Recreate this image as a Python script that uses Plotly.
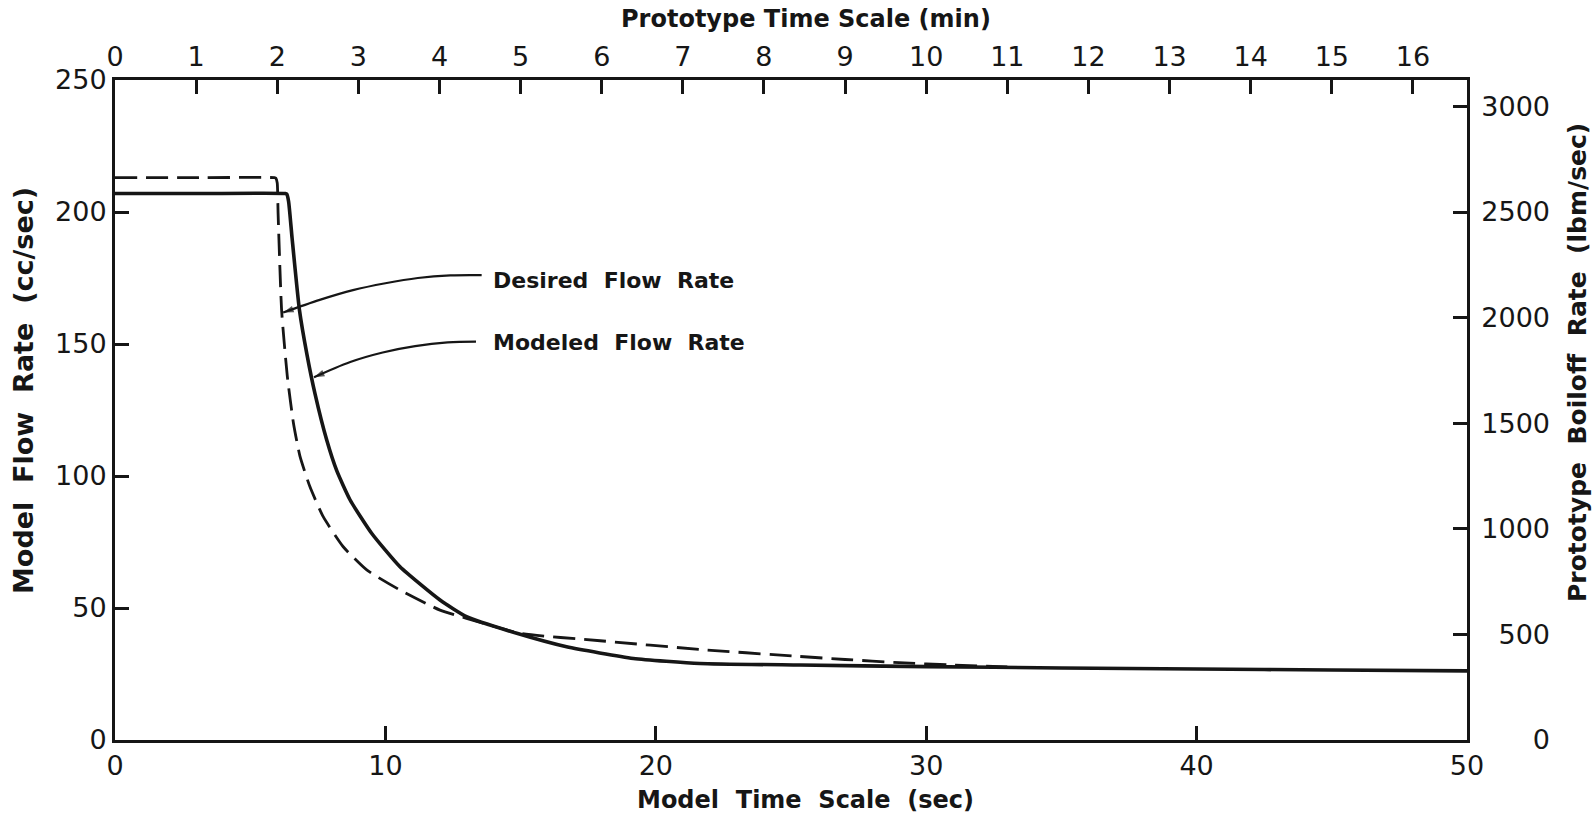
import plotly.graph_objects as go

# ---- data (model time in sec, model flow rate in cc/sec) ----
desired_t = [0, 3.0, 5.9, 5.95, 6.0, 6.03, 6.16, 6.37, 6.6, 6.84, 7.21, 7.70, 8.44, 9.31, 10.54,
             12.02, 13.0, 14.98, 17.94, 21.63, 25.09, 27.0, 29.0, 31.0, 33.0]
desired_v = [213, 213, 213, 212.8, 211, 200, 163, 138, 120, 107.5, 95.9, 84.6, 73.2, 64.4, 56.8,
             49.2, 46.1, 40.4, 37.6, 34.3, 31.8, 30.5, 29.3, 28.4, 27.7]

modeled_t = [0, 3.2, 6.3, 6.35, 6.42, 6.55, 6.82, 7.1, 7.4, 7.83, 8.2, 8.69, 9.49, 10.54, 12.02,
             13.0, 14.86, 16.7, 19.17, 21.63, 25.33, 30, 35, 40, 45, 50]
modeled_v = [207, 207, 207, 206.8, 204, 190, 163, 146, 131, 113.6, 102, 91, 78.3, 65.6, 53.0,
             46.7, 40.4, 35.3, 30.9, 29.0, 28.4, 27.8, 27.3, 26.9, 26.5, 26.2]

# leader (arrow) paths, in data coordinates
desired_arrow_t = [13.56, 12.4, 11.2, 10.0, 8.8, 7.6, 6.22]
desired_arrow_v = [176.1, 176.0, 175.0, 173.0, 170.4, 166.8, 161.9]
modeled_arrow_t = [13.35, 12.3, 11.1, 9.9, 8.7, 7.36]
modeled_arrow_v = [150.9, 150.6, 149.2, 146.8, 143.2, 137.4]

label_desired = "Desired Flow Rate"
label_modeled = "Modeled Flow Rate"
label_pos_t = 13.9
label_desired_v = 174
label_modeled_v = 150.5

x_ticks = [0, 10, 20, 30, 40, 50]
y_ticks = [0, 50, 100, 150, 200, 250]
top_ticks = list(range(0, 17))          # prototype minutes
right_ticks = [0, 500, 1000, 1500, 2000, 2500, 3000]   # lbm/sec

title_bottom = "Model Time Scale (sec)"
title_top = "Prototype Time Scale (min)"
title_left = "Model Flow Rate (cc/sec)"
title_right = "Prototype Boiloff Rate (lbm/sec)"

SEC_PER_MIN = 3.0        # model seconds per prototype minute
LBM_PER_CC = 12.5        # prototype lbm/sec per model cc/sec

FONT = "DejaVu Sans"
INK = "#161616"
NB = "\u00a0"


def spaced(text, gap):
    return (NB * gap).join(text.split(" "))


fig = go.Figure()

fig.add_trace(go.Scatter(x=desired_t, y=desired_v, mode="lines",
                         line=dict(color=INK, width=2.8, dash="22px,9px",
                                   shape="spline", smoothing=0.5),
                         showlegend=False, hoverinfo="skip"))
fig.add_trace(go.Scatter(x=modeled_t, y=modeled_v, mode="lines",
                         line=dict(color=INK, width=3.6, shape="spline", smoothing=0.5),
                         showlegend=False, hoverinfo="skip"))

for at, av in ((desired_arrow_t, desired_arrow_v), (modeled_arrow_t, modeled_arrow_v)):
    sizes = [0] * (len(at) - 1) + [11]
    fig.add_trace(go.Scatter(x=at, y=av, mode="lines+markers",
                             line=dict(color=INK, width=2.2, shape="spline"),
                             marker=dict(symbol="arrow", size=sizes, color=INK,
                                         angleref="previous", line=dict(width=0)),
                             showlegend=False, hoverinfo="skip"))

for txt, yv in ((label_desired, label_desired_v), (label_modeled, label_modeled_v)):
    fig.add_annotation(x=label_pos_t, y=yv, text=spaced(txt, 2), showarrow=False,
                       xanchor="left", yanchor="middle",
                       font=dict(family=FONT, size=22, color=INK, weight="bold"))

W, H = 1593, 820
ML, MR, MT, MB = 115, 10, 80, 80
PW, PH = W - ML - MR, H - MT - MB
plot_right_px = 1467
xdom_end = (plot_right_px - ML) / PW


def px_x(px):
    return (px - ML) / PW


def px_y(py):
    return (H - MB - py) / PH


# axis titles
fig.add_annotation(xref="paper", yref="paper", x=px_x(805), y=px_y(800), text=spaced(title_bottom, 2),
                   showarrow=False, xanchor="center", yanchor="middle",
                   font=dict(family=FONT, size=24, color=INK, weight="bold"))
fig.add_annotation(xref="paper", yref="paper", x=px_x(806), y=px_y(19), text=title_top,
                   showarrow=False, xanchor="center", yanchor="middle",
                   font=dict(family=FONT, size=24, color=INK, weight="bold"))
fig.add_annotation(xref="paper", yref="paper", x=px_x(23), y=px_y(391), text=spaced(title_left, 2),
                   showarrow=False, xanchor="center", yanchor="middle", textangle=-90,
                   font=dict(family=FONT, size=27, color=INK, weight="bold"))
fig.add_annotation(xref="paper", yref="paper", x=px_x(1577), y=px_y(363), text=spaced(title_right, 2),
                   showarrow=False, xanchor="center", yanchor="middle", textangle=-90,
                   font=dict(family=FONT, size=25, color=INK, weight="bold"))

tickfont = dict(family=FONT, size=27, color=INK)

fig.update_layout(
    width=W, height=H,
    margin=dict(l=ML, r=MR, t=MT, b=MB, autoexpand=False),
    paper_bgcolor="white", plot_bgcolor="white",
    xaxis=dict(domain=[0, xdom_end], range=[0, 50], tickvals=x_ticks,
               ticks="inside", ticklen=14, tickwidth=2.5, tickcolor=INK,
               showline=True, linewidth=3, linecolor=INK, showgrid=False, zeroline=False,
               tickfont=tickfont, automargin=False),
    xaxis2=dict(domain=[0, xdom_end], range=[0, 50 / SEC_PER_MIN], tickvals=top_ticks,
                overlaying="x", side="top", anchor="y",
                ticks="inside", ticklen=14, tickwidth=2.5, tickcolor=INK,
                showline=True, linewidth=3, linecolor=INK, showgrid=False, zeroline=False,
                tickfont=tickfont, automargin=False),
    yaxis=dict(range=[0, 250], tickvals=y_ticks, anchor="x",
               ticks="inside", ticklen=14, tickwidth=2.5, tickcolor=INK,
               showline=True, linewidth=3, linecolor=INK, showgrid=False, zeroline=False,
               tickfont=tickfont, automargin=False),
    yaxis2=dict(range=[0, 250 * LBM_PER_CC], tickvals=right_ticks,
                overlaying="y", side="left", anchor="free",
                position=px_x(1550),
                ticks="", showline=False, showgrid=False, zeroline=False,
                tickfont=tickfont, automargin=False),
    yaxis3=dict(range=[0, 250 * LBM_PER_CC], tickvals=right_ticks,
                overlaying="y", side="right", anchor="x",
                ticks="inside", ticklen=14, tickwidth=2.5, tickcolor=INK,
                showticklabels=False,
                showline=True, linewidth=3, linecolor=INK, showgrid=False, zeroline=False,
                automargin=False),
)

# dummy traces so the secondary axes are drawn
fig.add_trace(go.Scatter(x=[None], y=[None], xaxis="x2", yaxis="y", showlegend=False))
fig.add_trace(go.Scatter(x=[None], y=[None], xaxis="x", yaxis="y2", showlegend=False))
fig.add_trace(go.Scatter(x=[None], y=[None], xaxis="x", yaxis="y3", showlegend=False))

fig.write_html("out.html")
